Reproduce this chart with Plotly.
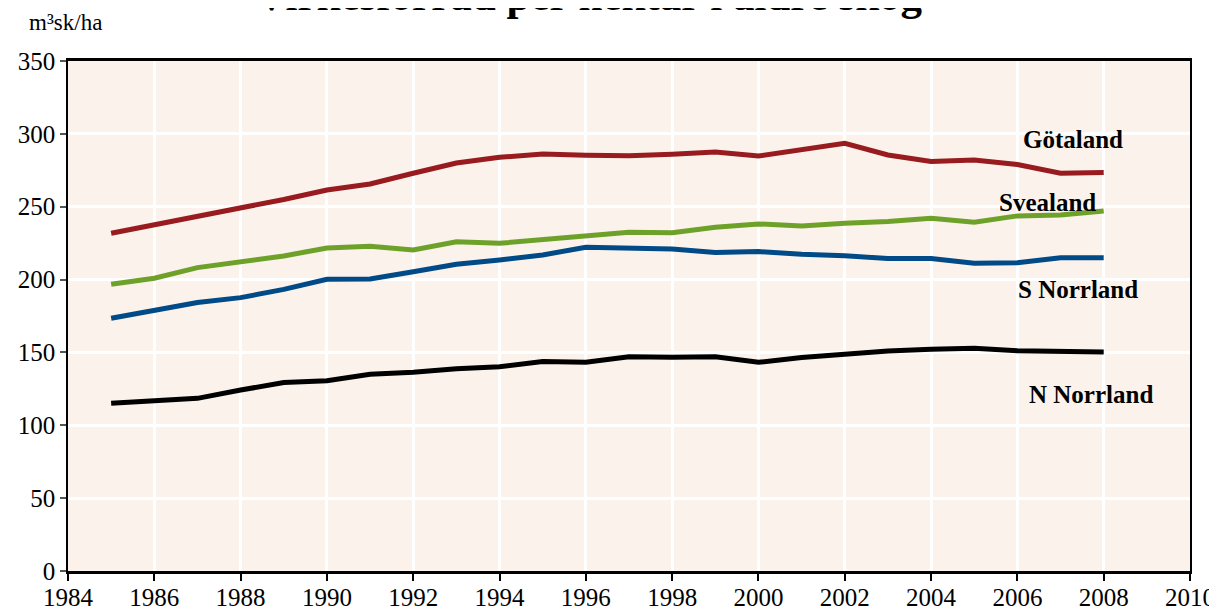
import plotly.graph_objects as go

years = list(range(1985, 2009))

gotaland = [231.8, 237.5, 244.0, 249.0, 255.0, 261.5, 265.6, 273.0, 280.0, 283.9, 286.2, 285.3,
            285.0, 286.0, 287.6, 284.8, 289.0, 293.5, 285.5, 281.0, 282.0, 279.0, 273.0, 273.4]
svealand = [196.8, 200.9, 208.2, 212.3, 216.2, 221.7, 222.8, 220.3, 226.0, 224.9, 227.6, 229.5,
            232.5, 232.2, 235.9, 238.2, 236.8, 238.6, 239.8, 242.0, 239.3, 243.7, 244.3, 247.1]
s_norrland = [173.4, 179.1, 184.2, 187.6, 193.3, 200.2, 200.4, 205.4, 210.5, 213.4, 216.9, 222.2,
              221.5, 221.0, 218.5, 219.2, 217.4, 216.4, 214.4, 214.4, 211.2, 211.6, 215.0, 215.0]
n_norrland = [115.1, 116.9, 118.5, 124.2, 129.3, 130.6, 135.0, 136.4, 138.8, 140.2, 143.7, 143.2,
              147.1, 146.7, 147.1, 143.2, 146.5, 148.7, 151.0, 152.1, 152.8, 151.2, 150.5, 150.3]

series_names = ["Götaland", "Svealand", "S Norrland", "N Norrland"]
series_values = [gotaland, svealand, s_norrland, n_norrland]
series_colors = ["#971B1F", "#6EA12A", "#004A87", "#000000"]

label_x = [2007.3, 2006.7, 2007.4, 2007.7]
label_y = [295.8, 252.6, 192.9, 120.8]

title_text = "Virkesförråd per hektar i äldre skog"
unit_text = "m³sk/ha"

FONT = "Liberation Serif, Times New Roman, serif"

fig = go.Figure()
for name, vals, col in zip(series_names, series_values, series_colors):
    fig.add_trace(go.Scatter(x=years, y=vals, mode="lines", name=name,
                             line=dict(color=col, width=5), showlegend=False))

for name, lx, ly in zip(series_names, label_x, label_y):
    fig.add_annotation(x=lx, y=ly, xref="x", yref="y", text="<b>%s</b>" % name,
                       showarrow=False, font=dict(family=FONT, size=25, color="black"))

fig.add_annotation(x=0.465, y=1, xref="paper", yref="paper", xanchor="center", yanchor="bottom",
                   yshift=40, text="<b>%s</b>" % title_text, showarrow=False,
                   font=dict(family=FONT, size=43, color="black"))
fig.add_annotation(x=-0.0365, y=1, xref="paper", yref="paper", xanchor="left", yanchor="bottom",
                   yshift=24, text=unit_text, showarrow=False,
                   font=dict(family=FONT, size=23, color="black"))

fig.update_layout(
    width=1209, height=602,
    margin=dict(l=60, r=27, t=53, b=39, autoexpand=False),
    paper_bgcolor="white",
    plot_bgcolor="#FBF3EB",
    font=dict(family=FONT, size=25, color="black"),
    xaxis=dict(range=[1984, 2010], dtick=2, tick0=1984, showgrid=True, gridcolor="white",
               gridwidth=2.5, showline=True, linecolor="black", linewidth=2.5, mirror=True,
               ticks="outside", ticklen=7, tickcolor="black", tickwidth=1.5, automargin=False,
               ticklabelstandoff=-5,
               tickfont=dict(family=FONT, size=25, color="black"), zeroline=False),
    yaxis=dict(range=[0, 350], dtick=50, showgrid=True, gridcolor="white", gridwidth=2.5,
               showline=True, linecolor="black", linewidth=1.5, mirror=True, automargin=False,
               ticks="outside", ticklen=6, tickcolor="#555555", tickwidth=1.5,
               tickfont=dict(family=FONT, size=25, color="black"), zeroline=False),
)

fig.write_html("out.html")
